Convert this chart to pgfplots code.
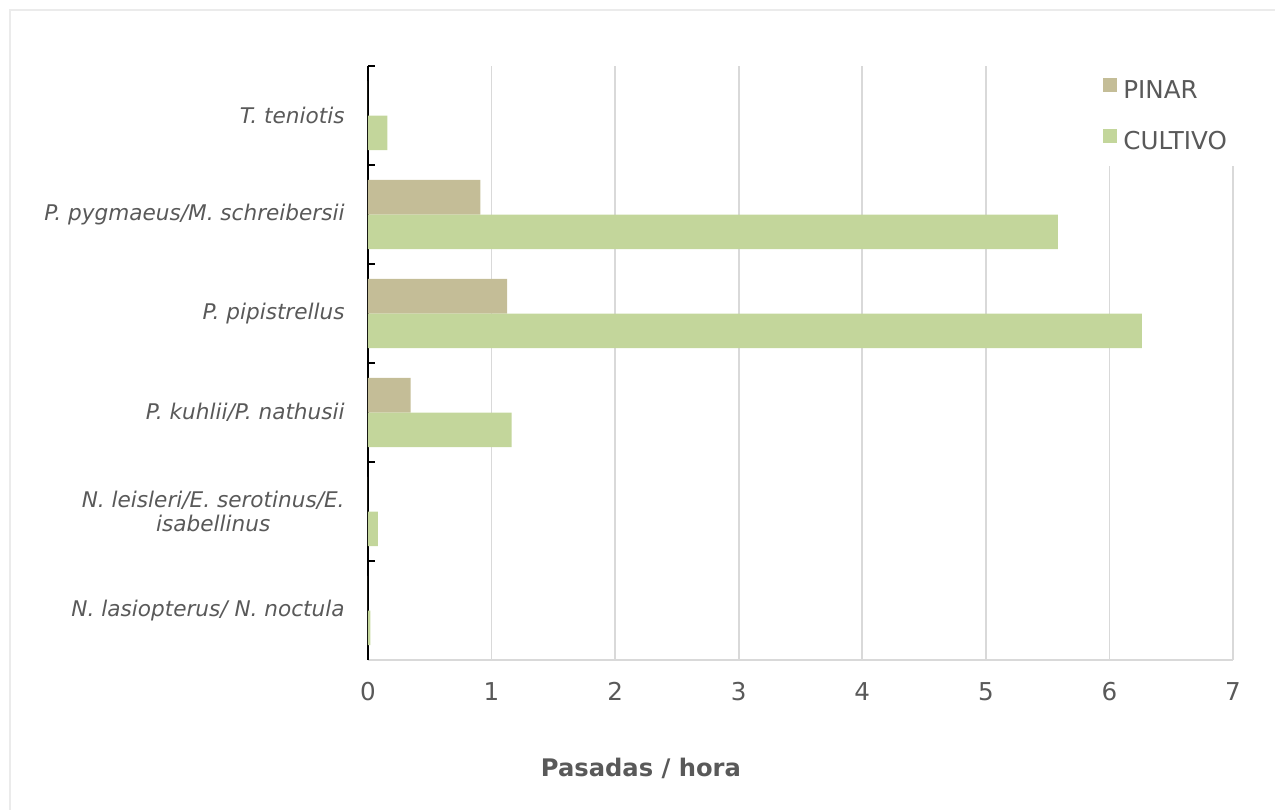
\documentclass[border=0pt]{standalone}
\usepackage{fontspec}
\setmainfont{DejaVu Sans}
\usepackage{pgfplots}
\pgfplotsset{compat=1.18}
\definecolor{pinar}{HTML}{C4BD97}
\definecolor{cultivo}{HTML}{C3D69B}
\definecolor{txtgray}{HTML}{595959}
\definecolor{gridgray}{HTML}{D9D9D9}
\definecolor{framegray}{HTML}{EBEBEB}

\begin{document}
\begin{tikzpicture}
\begin{axis}[
  at={(0,0)}, anchor=south west,
  scale only axis, width=432.5pt, height=297pt,
  xbar, bar width=0.35,
  xmin=0, xmax=7, ymin=-0.5, ymax=5.5,
  axis x line*=bottom, axis y line*=left,
  x axis line style={draw=gridgray, line width=0.85pt, -},
  y axis line style={draw=black, line width=1.1pt, -},
  xtick={0,...,7},
  ytick={0,...,5},
  yticklabels={N. lasiopterus/ N. noctula,
    {N. leisleri/E. serotinus/E.\\isabellinus},
    P. kuhlii/P. nathusii, P. pipistrellus,
    P. pygmaeus/M. schreibersii, T. teniotis},
  minor ytick={-0.5,0.5,...,5.5},
  major tick length=0pt, minor tick length=3.5pt,
  tick align=inside,
  minor tick style={black, line width=1.1pt},
  xmajorgrids, grid style={gridgray, line width=0.85pt},
  /pgf/number format/assume math mode=true,
  yticklabel style={font=\fontsize{10.8}{12}\selectfont\itshape, text=txtgray,
    align=center, inner sep=0pt, xshift=-11.5pt},
  xticklabel style={font=\fontsize{12.3}{14}\selectfont, text=txtgray,
    inner sep=0pt, yshift=-11pt},
  xlabel={Pasadas / hora},
  xlabel style={at={(axis description cs:0.3156,-0.1953)}, anchor=base,
    font=\fontsize{12.1}{14}\selectfont\bfseries, text=txtgray},
  legend style={at={(0.8312,1)}, anchor=north west, draw=none, fill=white,
    inner xsep=8pt, inner ysep=6pt, font=\fontsize{12.3}{14}\selectfont,
    text=txtgray, row sep=12.5pt, column sep=3pt,
    nodes={inner sep=0pt, text height=9pt, text depth=2.5pt}},
  legend cell align=left,
  legend image code/.code={\fill[#1] (0pt,0pt) rectangle (7pt,7pt);},
]
\addplot[fill=pinar, draw=none, bar shift=0.175] coordinates {
  (0,0) (0,1) (0.345,2) (1.125,3) (0.91,4) (0,5)
};
\addlegendentry{PINAR}
\addplot[fill=cultivo, draw=none, bar shift=-0.175] coordinates {
  (0.02,0) (0.08,1) (1.163,2) (6.262,3) (5.583,4) (0.156,5)
};
\addlegendentry{CULTIVO}
\end{axis}
% light frame of the chart area
\draw[framegray, line width=0.75pt] (-179pt,-90pt) -- (-179pt,325pt) -- (470pt,325pt);
\pgfresetboundingbox
\path[use as bounding box] (-184pt,-74.5pt) rectangle (453.5pt,330pt);
\end{tikzpicture}
\end{document}
